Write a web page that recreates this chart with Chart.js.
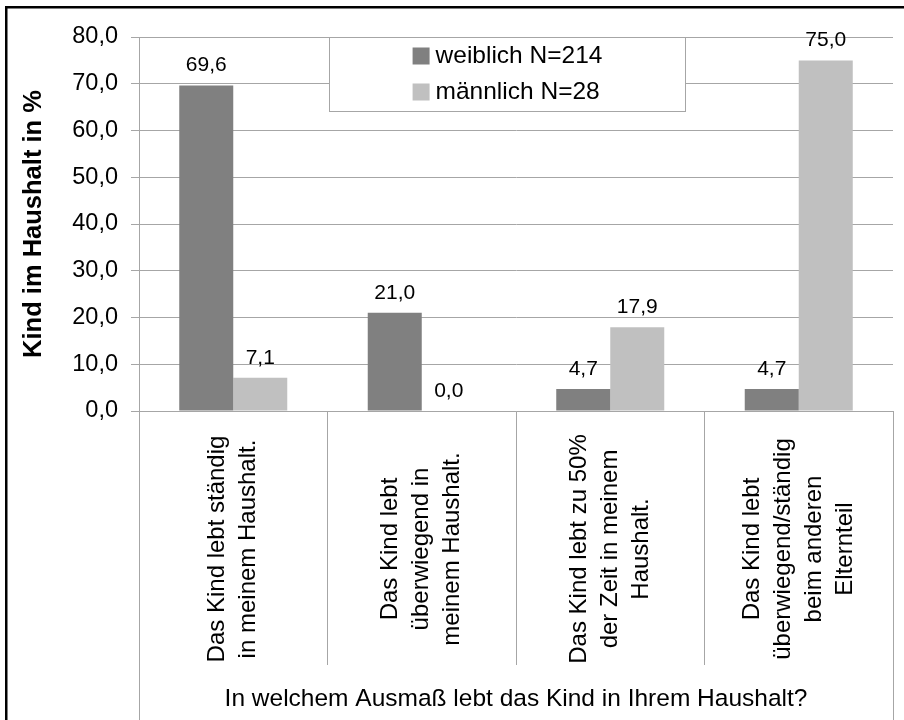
<!DOCTYPE html>
<html lang="de">
<head>
<meta charset="UTF-8">
<script src="https://cdn.jsdelivr.net/npm/chart.js"></script>
<style>
  html, body { margin: 0; padding: 0; background: #fff; }
  .chart-box { width: 904px; height: 720px; }
</style>
</head>
<body>
<div class="chart-box"><canvas id="chart" width="904" height="720"></canvas></div>
<script>
// Daten
const kategorien = [
  ['Das Kind lebt ständig', 'in meinem Haushalt.'],
  ['Das Kind lebt', 'überwiegend in', 'meinem Haushalt.'],
  ['Das Kind lebt zu 50%', 'der Zeit in meinem', 'Haushalt.'],
  ['Das Kind lebt', 'überwiegend/ständig', 'beim anderen', 'Elternteil']
];
const serienNamen = ['weiblich N=214', 'männlich N=28'];
const weiblich = [69.6, 21.0, 4.7, 4.7];
const maennlich = [7.1, 0.0, 17.9, 75.0];
const yTicks = [0, 10, 20, 30, 40, 50, 60, 70, 80];
const yTitel = 'Kind im Haushalt in %';
const xTitel = 'In welchem Ausmaß lebt das Kind in Ihrem Haushalt?';

const FONT = '"Liberation Sans", Arial, sans-serif';
const GRAU = '#a6a6a6';
const farben = ['#808080', '#c0c0c0'];

const komma = v => v.toFixed(1).replace('.', ',');

// weisser Hintergrund + Rahmen
const rahmen = {
  id: 'rahmen',
  beforeDraw(chart) {
    const ctx = chart.ctx;
    ctx.save();
    ctx.fillStyle = '#fff';
    ctx.fillRect(0, 0, chart.width, chart.height);
    ctx.fillStyle = '#000';
    ctx.fillRect(5, 6, chart.width, 2.5);
    ctx.fillRect(5, 6, 2.5, chart.height);
    ctx.restore();
  },
  afterDraw(chart) {
    const {ctx, chartArea, scales: {x}} = chart;
    ctx.save();
    ctx.strokeStyle = GRAU;
    ctx.lineWidth = 1;
    [chartArea.left, chartArea.right].forEach(px => {
      ctx.beginPath();
      ctx.moveTo(Math.round(px) + 0.5, x.top);
      ctx.lineTo(Math.round(px) + 0.5, chart.height);
      ctx.stroke();
    });
    ctx.restore();
  }
};

// Kategorienbeschriftung, gedreht und zentriert
const kategorieLabels = {
  id: 'kategorieLabels',
  afterDraw(chart) {
    const {ctx, scales: {x}} = chart;
    const zeilenAbstand = 31;
    const mitteY = x.top + 138;
    ctx.save();
    ctx.font = '24px ' + FONT;
    ctx.fillStyle = '#000';
    ctx.textAlign = 'center';
    ctx.textBaseline = 'middle';
    kategorien.forEach((zeilen, i) => {
      ctx.save();
      ctx.translate(x.getPixelForValue(i), mitteY);
      ctx.rotate(-Math.PI / 2);
      zeilen.forEach((z, j) => {
        ctx.fillText(z, 0, (j - (zeilen.length - 1) / 2) * zeilenAbstand);
      });
      ctx.restore();
    });
    ctx.restore();
  }
};

// Werte ueber den Balken
const werteLabels = {
  id: 'werteLabels',
  afterDatasetsDraw(chart) {
    const ctx = chart.ctx;
    ctx.save();
    ctx.font = '21px ' + FONT;
    ctx.fillStyle = '#000';
    ctx.textAlign = 'center';
    ctx.textBaseline = 'middle';
    chart.data.datasets.forEach((ds, i) => {
      chart.getDatasetMeta(i).data.forEach((bar, j) => {
        ctx.fillText(komma(ds.data[j]), bar.x, bar.y - 20);
      });
    });
    ctx.restore();
  }
};

// Legende im Diagramm
const legendeBox = {
  id: 'legendeBox',
  afterDraw(chart) {
    const {ctx, chartArea} = chart;
    const bx = chartArea.left + 190.5, by = chartArea.top + 0.5;
    const bw = 356, bh = 74;
    ctx.save();
    ctx.fillStyle = '#fff';
    ctx.fillRect(bx, by, bw, bh);
    ctx.strokeStyle = GRAU;
    ctx.lineWidth = 1;
    ctx.strokeRect(bx, by, bw, bh);
    ctx.font = '24.5px ' + FONT;
    const breite = Math.max(...chart.data.datasets.map(d => ctx.measureText(d.label).width)) + 23;
    const start = bx + (bw - breite) / 2;
    ctx.textBaseline = 'middle';
    chart.data.datasets.forEach((d, i) => {
      const cy = by + 18 + i * 36;
      ctx.fillStyle = d.backgroundColor;
      ctx.fillRect(start, cy - 8, 17, 17);
      ctx.fillStyle = '#000';
      ctx.fillText(d.label, start + 23, cy + 1);
    });
    ctx.restore();
  }
};

new Chart(document.getElementById('chart'), {
  type: 'bar',
  data: {
    labels: kategorien,
    datasets: [
      { label: serienNamen[0], data: weiblich, backgroundColor: farben[0] },
      { label: serienNamen[1], data: maennlich, backgroundColor: farben[1] }
    ]
  },
  options: {
    responsive: false,
    animation: false,
    devicePixelRatio: 1,
    categoryPercentage: 0.573,
    barPercentage: 1,
    layout: { padding: { left: 8, top: 37, right: 11, bottom: 0 } },
    plugins: {
      legend: { display: false },
      tooltip: { enabled: false }
    },
    scales: {
      x: {
        ticks: { display: false },
        grid: { offset: true, drawOnChartArea: false, tickLength: 254, color: GRAU },
        border: { color: GRAU },
        title: {
          display: true, text: xTitel, color: '#000',
          font: { family: FONT, size: 24.5 }, padding: { top: 0, bottom: 6 }
        },
        afterFit: s => { s.height = 309; }
      },
      y: {
        min: yTicks[0],
        max: yTicks[yTicks.length - 1],
        afterBuildTicks: s => { s.ticks = yTicks.map(v => ({ value: v })); },
        ticks: {
          callback: v => komma(v), color: '#000', padding: 13,
          font: { family: FONT, size: 23.5 }
        },
        grid: { color: GRAU, tickLength: 8 },
        border: { color: GRAU },
        title: {
          display: true, text: yTitel, color: '#000',
          font: { family: FONT, size: 25.5, weight: 'bold' }, padding: { top: 11, bottom: 0 }
        },
        afterFit: s => { s.width = 131; }
      }
    }
  },
  plugins: [rahmen, kategorieLabels, werteLabels, legendeBox]
});
</script>
</body>
</html>
